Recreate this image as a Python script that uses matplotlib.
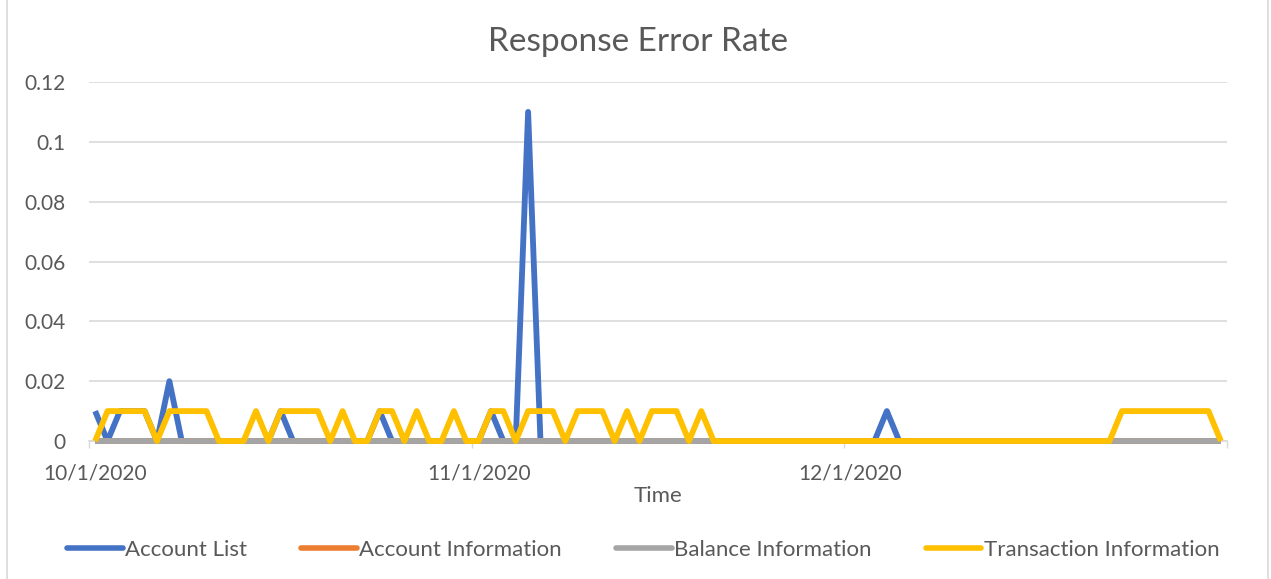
import numpy as np
import pandas as pd
import matplotlib
matplotlib.use("Agg")
import matplotlib.pyplot as plt
import matplotlib.dates as mdates
from matplotlib.patches import Rectangle

plt.rcParams['font.family'] = ['Lato', 'DejaVu Sans']

# daily points, 10/1/2020 .. 12/31/2020
dates = pd.date_range("2020-10-01", "2020-12-31", freq="D")

account_list = [
    0.01, 0, 0.01, 0.01, 0.01, 0, 0.02, 0, 0, 0,
    0, 0, 0, 0, 0, 0.01, 0, 0, 0, 0,
    0, 0, 0, 0.01, 0, 0, 0, 0, 0, 0,
    0, 0, 0.01, 0, 0, 0.11, 0, 0, 0, 0,
    0, 0, 0, 0, 0, 0, 0, 0, 0, 0,
    0, 0, 0, 0, 0, 0, 0, 0, 0, 0,
    0, 0, 0, 0, 0.01, 0, 0, 0, 0, 0,
    0, 0, 0, 0, 0, 0, 0, 0, 0, 0,
    0, 0, 0, 0, 0, 0, 0, 0, 0, 0,
    0, 0,
]
account_info = [0] * 92
balance_info = [0] * 92
transaction_info = [
    0, 0.01, 0.01, 0.01, 0.01, 0, 0.01, 0.01, 0.01, 0.01,
    0, 0, 0, 0.01, 0, 0.01, 0.01, 0.01, 0.01, 0,
    0.01, 0, 0, 0.01, 0.01, 0, 0.01, 0, 0, 0.01,
    0, 0, 0.01, 0.01, 0, 0.01, 0.01, 0.01, 0, 0.01,
    0.01, 0.01, 0, 0.01, 0, 0.01, 0.01, 0.01, 0, 0.01,
    0, 0, 0, 0, 0, 0, 0, 0, 0, 0,
    0, 0, 0, 0, 0, 0, 0, 0, 0, 0,
    0, 0, 0, 0, 0, 0, 0, 0, 0, 0,
    0, 0, 0, 0.01, 0.01, 0.01, 0.01, 0.01, 0.01, 0.01,
    0.01, 0,
]

series = [
    ("Account List", account_list, "#4472C4"),
    ("Account Information", account_info, "#ED7D31"),
    ("Balance Information", balance_info, "#A5A5A5"),
    ("Transaction Information", transaction_info, "#FFC000"),
]
tick_dates = pd.to_datetime(["2020-10-01", "2020-11-01", "2020-12-01"])

text_c = '#595959'
grid_c = '#D9D9D9'

fig = plt.figure(figsize=(12.71, 5.79), dpi=100, facecolor='white')
ax = fig.add_axes([0.0700, 0.2383, 0.8954, 0.6201])

for name, vals, col in series:
    ax.plot(dates, vals, color=col, lw=4.2, label=name,
            solid_joinstyle='round', solid_capstyle='butt', clip_on=False, zorder=3)

half = pd.Timedelta(hours=12)
ax.set_xlim(dates[0] - half, dates[-1] + half)
ax.set_ylim(0, 0.12)
ax.set_yticks(np.arange(0, 0.121, 0.02))
ax.set_yticklabels(['0', '0.02', '0.04', '0.06', '0.08', '0.1', '0.12'])

ax.set_xticks(tick_dates)
ax.xaxis.set_major_formatter(mdates.DateFormatter('%-m/%-d/%Y'))
ax.set_xticks([dates[0] - half, tick_dates[1] - half, tick_dates[2] - half, dates[-1] + half], minor=True)
ax.tick_params(axis='x', which='major', length=0, pad=16, labelsize=15, colors=text_c)
ax.tick_params(axis='x', which='minor', length=5, width=1, color=grid_c)
ax.tick_params(axis='y', length=0, pad=17, labelsize=15, colors=text_c)

ax.grid(axis='y', color=grid_c, lw=1.2)
ax.set_axisbelow(True)
for s in ['top', 'right', 'left']:
    ax.spines[s].set_visible(False)
ax.spines['bottom'].set_color(grid_c)
ax.spines['bottom'].set_linewidth(1.2)
ax.spines['bottom'].set_zorder(1)

ax.set_xlabel('Time', fontsize=16, color=text_c, labelpad=2)
fig.text(0.502, 0.927, 'Response Error Rate', ha='center', va='center', fontsize=24, color=text_c)

fig.legend(loc='center', bbox_to_anchor=(0.506, 0.05), ncol=4, frameon=False,
           fontsize=16, labelcolor=text_c, handlelength=2.5, handletextpad=0.1,
           columnspacing=2.45)
for line in fig.legends[0].get_lines():
    line.set_linewidth(4)
    line.set_solid_capstyle('round')

# chart border
fig.patches.append(Rectangle((7 / 1271, -0.01), 1261 / 1271, 1.02, transform=fig.transFigure,
                             fill=False, edgecolor=grid_c, lw=1.2))

plt.savefig("out.png", dpi=100)
